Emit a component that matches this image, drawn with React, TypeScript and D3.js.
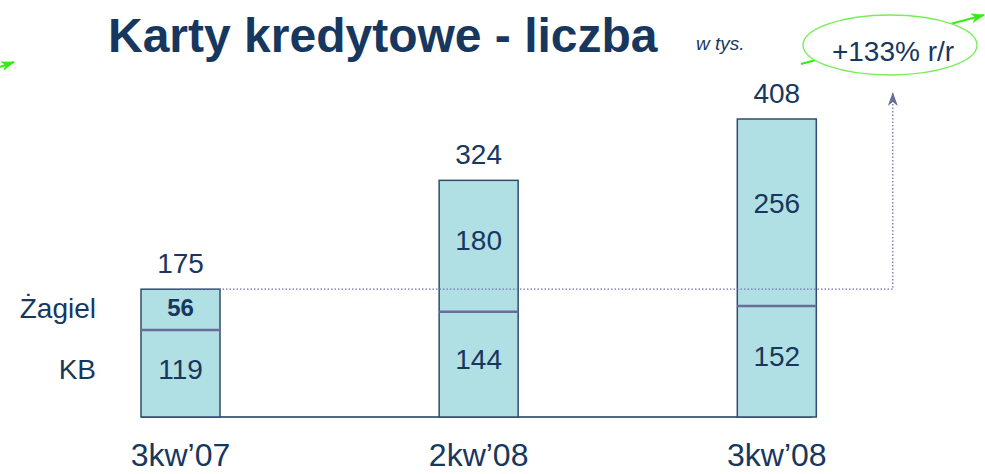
import React, { useEffect } from "react";
import * as d3 from "d3";

const categories = ["3kw\u201907", "2kw\u201908", "3kw\u201908"];
const kbValues = [119, 144, 152];
const zagielValues = [56, 180, 256];
const totals = [175, 324, 408];
const seriesNames = ["\u017bagiel", "KB"];
const titleText = "Karty kredytowe - liczba";
const unitText = "w tys.";
const growthText = "+133% r/r";

const W = 985;
const H = 474;
const FONT = "'Liberation Sans', Arial, Helvetica, sans-serif";
const NAVY = "#17375e";
const BAR_FILL = "#b0dfe4";
const BAR_STROKE = "#2e4d6e";
const DIVIDER = "#6b6b9c";
const DOTTED = "#7373a8";
const GREEN = "#33ee11";

export default function App() {
  useEffect(() => {
    document.body.style.margin = "0";
    document.body.style.overflow = "hidden";
  }, []);

  const x = d3.scalePoint<string>().domain(categories).range([180.5, 776.8]);
  const y = d3.scaleLinear().domain([0, 408]).range([417, 119]);
  const barW = 79;
  const frac = 0.45;

  const x0 = x(categories[0]) as number;
  const xLast = x(categories[categories.length - 1]) as number;
  const connX = xLast + 116;
  const connY = y(totals[0]);

  const line = d3.line<[number, number]>();
  const connector = line([
    [x0, connY],
    [connX, connY],
    [connX, 92],
  ]);

  const zagLabelY = (i: number) => {
    const top = y(totals[i]);
    const mid = y(kbValues[i]);
    return top + frac * (mid - top);
  };
  const kbLabelY = (i: number) => {
    const mid = y(kbValues[i]);
    return mid + frac * (y(0) - mid);
  };

  return (
    <svg width={W} height={H} style={{ display: "block", position: "absolute", left: 0, top: 0, background: "#fff" }} fontFamily={FONT}>
      <defs>
        <marker id="upArrow" viewBox="0 0 14 10" refX="14" refY="5" markerWidth="14" markerHeight="10" markerUnits="userSpaceOnUse" orient="auto">
          <path d="M14,5 L0,0 L4,5 L0,10 Z" fill={DIVIDER} />
        </marker>
        <marker id="greenArrow" viewBox="0 0 14 10" refX="13" refY="5" markerWidth="14" markerHeight="10" markerUnits="userSpaceOnUse" orient="auto">
          <path d="M0,0 L14,5 L0,10 L4,5 Z" fill={GREEN} />
        </marker>
      </defs>

      {/* title */}
      <text x={108} y={52} fontSize={48} fontWeight="bold" fill={NAVY}>{titleText}</text>
      <text x={696} y={50} fontSize={19} fontStyle="italic" fill={NAVY}>{unitText}</text>

      {/* green decorative arrows */}
      <path d={line([[-12, 71], [14, 62]]) as string} stroke={GREEN} strokeWidth={2} fill="none" markerEnd="url(#greenArrow)" />
      <path d={line([[801, 64], [984, 15]]) as string} stroke={GREEN} strokeWidth={2} fill="none" markerEnd="url(#greenArrow)" />

      {/* growth ellipse */}
      <ellipse cx={890} cy={45} rx={87} ry={30} fill="#fff" stroke="#77ee55" strokeWidth={1.3} />
      <text x={893} y={61} fontSize={28} textAnchor="middle" fill={NAVY}>{growthText}</text>

      {/* baseline */}
      <line x1={x0 - barW / 2} x2={xLast + barW / 2 - 4} y1={y(0)} y2={y(0)} stroke={NAVY} strokeWidth={1.5} />

      {/* bars */}
      {categories.map((c, i) => {
        const cx = x(c) as number;
        return (
          <g key={c}>
            <rect x={cx - barW / 2} y={y(totals[i])} width={barW} height={y(0) - y(totals[i])} fill={BAR_FILL} stroke={BAR_STROKE} strokeWidth={1.5} />
            <line x1={cx - barW / 2} x2={cx + barW / 2} y1={y(kbValues[i])} y2={y(kbValues[i])} stroke={DIVIDER} strokeWidth={2.5} />
          </g>
        );
      })}

      {/* dotted connector */}
      <path d={connector as string} fill="none" stroke={DOTTED} strokeWidth={1.3} strokeDasharray="1.5,2" markerEnd="url(#upArrow)" />

      {/* labels */}
      {categories.map((c, i) => {
        const cx = x(c) as number;
        return (
          <g key={"l" + c} fill={NAVY} textAnchor="middle">
            <text x={cx} y={y(totals[i]) - 16} fontSize={28}>{totals[i]}</text>
            <text x={cx} y={zagLabelY(i) + (i === 0 ? 8.5 : 10)} fontSize={i === 0 ? 24 : 28} fontWeight={i === 0 ? "bold" : "normal"}>{zagielValues[i]}</text>
            <text x={cx} y={kbLabelY(i) + 10} fontSize={28}>{kbValues[i]}</text>
            <text x={cx} y={466} fontSize={32}>{c}</text>
          </g>
        );
      })}

      {/* series names */}
      <text x={96} y={zagLabelY(0) + 10} fontSize={28} textAnchor="end" fill={NAVY}>{seriesNames[0]}</text>
      <text x={96} y={kbLabelY(0) + 10} fontSize={28} textAnchor="end" fill={NAVY}>{seriesNames[1]}</text>
    </svg>
  );
}
